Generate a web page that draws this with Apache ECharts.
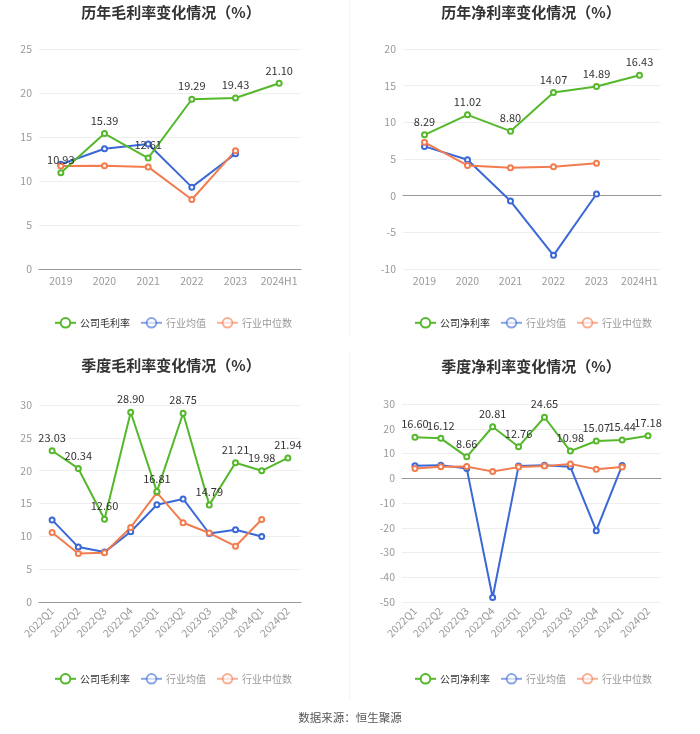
<!DOCTYPE html>
<html><head><meta charset="utf-8">
<script src="https://cdn.jsdelivr.net/npm/echarts@6/dist/echarts.min.js"></script>
<style>html,body{margin:0;padding:0;background:#fff}#c{width:700px;height:734px}</style>
</head><body><div id="c"></div>
<script>
var yearCats = ['2019','2020','2021','2022','2023','2024H1'];
var quarterCats = ['2022Q1','2022Q2','2022Q3','2022Q4','2023Q1','2023Q2','2023Q3','2023Q4','2024Q1','2024Q2'];

var yearGross = [10.93, 15.39, 12.61, 19.29, 19.43, 21.10];
var yearGrossAvg = [11.9, 13.67, 14.2, 9.3, 13.1, null];
var yearGrossMed = [11.7, 11.72, 11.6, 7.9, 13.45, null];

var yearNet = [8.29, 11.02, 8.80, 14.07, 14.89, 16.43];
var yearNetAvg = [6.72, 4.9, -0.73, -8.14, 0.23, null];
var yearNetMed = [7.27, 4.13, 3.82, 3.95, 4.41, null];

var qGross = [23.03, 20.34, 12.60, 28.90, 16.81, 28.75, 14.79, 21.21, 19.98, 21.94];
var qGrossAvg = [12.5, 8.36, 7.6, 10.7, 14.8, 15.7, 10.43, 11.0, 9.97, null];
var qGrossMed = [10.58, 7.39, 7.5, 11.35, 16.66, 12.06, 10.5, 8.5, 12.56, null];

var qNet = [16.60, 16.12, 8.66, 20.81, 12.76, 24.65, 10.98, 15.07, 15.44, 17.18];
var qNetAvg = [5.1, 5.3, 3.9, -48.2, 4.9, 5.3, 4.6, -21.2, 5.2, null];
var qNetMed = [3.9, 4.6, 4.7, 2.7, 4.5, 4.9, 5.8, 3.6, 4.5, null];

var titles = ['历年毛利率变化情况（%）','历年净利率变化情况（%）','季度毛利率变化情况（%）','季度净利率变化情况（%）'];
var names = [['公司毛利率','行业均值','行业中位数'],['公司净利率','行业均值','行业中位数'],['公司毛利率','行业均值','行业中位数'],['公司净利率','行业均值','行业中位数']];

var GREEN = '#55b82b', BLUE = '#3a68d6', ORANGE = '#f37c4f';
var FONT = '"Noto Sans CJK SC","Noto Sans",sans-serif';

var grids = [
  {left:39, top:49, width:262, height:220},
  {left:403, top:49, width:258, height:220},
  {left:39, top:405, width:262, height:197},
  {left:402, top:404, width:259, height:198}
];
var yCfg = [
  {min:0,max:25,interval:5},
  {min:-10,max:20,interval:5},
  {min:0,max:30,interval:5},
  {min:-50,max:30,interval:10}
];
var titlePos = [[166,0],[526,0],[166,353],[526,354]];
var legendPos = [[49,312],[409,312],[49,668],[409,668]];
var dataSets = [
  [yearGross, yearGrossAvg, yearGrossMed, yearCats],
  [yearNet, yearNetAvg, yearNetMed, yearCats],
  [qGross, qGrossAvg, qGrossMed, quarterCats],
  [qNet, qNetAvg, qNetMed, quarterCats]
];

var option = {
  animation:false,
  textStyle:{fontFamily:FONT},
  title:[], legend:[], grid:[], xAxis:[], yAxis:[], series:[],
  graphic:[
    {type:'line', shape:{x1:349.5,y1:0,x2:349.5,y2:338}, style:{stroke:'#f5f5f5',lineWidth:1}},
    {type:'line', shape:{x1:349.5,y1:352,x2:349.5,y2:700}, style:{stroke:'#f5f5f5',lineWidth:1}},
    {type:'text', left:'center', top:712, style:{text:'数据来源：恒生聚源', fill:'#555', font:'11.5px '+FONT}}
  ]
};

for (var i=0;i<4;i++){
  option.title.push({text:titles[i], left:titlePos[i][0], top:titlePos[i][1], textAlign:'center',
    textStyle:{fontSize:15, fontWeight:'bold', color:'#333', fontFamily:FONT}});
  option.legend.push({
    left:legendPos[i][0], top:legendPos[i][1], width:300,
    orient:'horizontal', itemWidth:21, itemHeight:12, itemGap:10,
    textStyle:{fontSize:10, color:'#999', fontFamily:FONT, padding:[0,0,0,-1]},
    data:[
      {name:names[i][0], textStyle:{color:'#333'}},
      {name:names[i][1], itemStyle:{opacity:0.6}, lineStyle:{opacity:0.6}},
      {name:names[i][2], itemStyle:{opacity:0.6}, lineStyle:{opacity:0.6}}
    ]
  });
  option.grid.push(grids[i]);
  var rot = i>=2 ? 45 : 0;
  option.xAxis.push({type:'category', gridIndex:i, data:dataSets[i][3], boundaryGap:true,
    axisLine:{lineStyle:{color:'#999'}}, axisTick:{alignWithLabel:true, lineStyle:{color:'#999'}},
    axisLabel:{color:'#999', fontSize:10.5, rotate:rot, margin:7, interval:0}});
  option.yAxis.push({type:'value', gridIndex:i, min:yCfg[i].min, max:yCfg[i].max, interval:yCfg[i].interval,
    axisLine:{show:false}, axisTick:{show:false},
    axisLabel:{color:'#999', fontSize:10.5, margin:7},
    splitLine:{lineStyle:{color:'#eee'}}});
  var cols=[GREEN,BLUE,ORANGE];
  for (var s=0;s<3;s++){
    option.series.push({
      type:'line', name:names[i][s], xAxisIndex:i, yAxisIndex:i, data:dataSets[i][s],
      symbol:'emptyCircle', symbolSize:5, showAllSymbol:true,
      lineStyle:{width:2, color:cols[s]}, itemStyle:{color:cols[s]},
      label: s===0 ? {show:true, position:'top', distance:4, color:'#333', fontSize:11,
        formatter:function(p){return p.value.toFixed(2);}} : {show:false},
      z: s===0 ? 3 : 2
    });
  }
}
var chart = echarts.init(document.getElementById('c'), null, {renderer:'canvas'});
chart.setOption(option);
</script></body></html>
